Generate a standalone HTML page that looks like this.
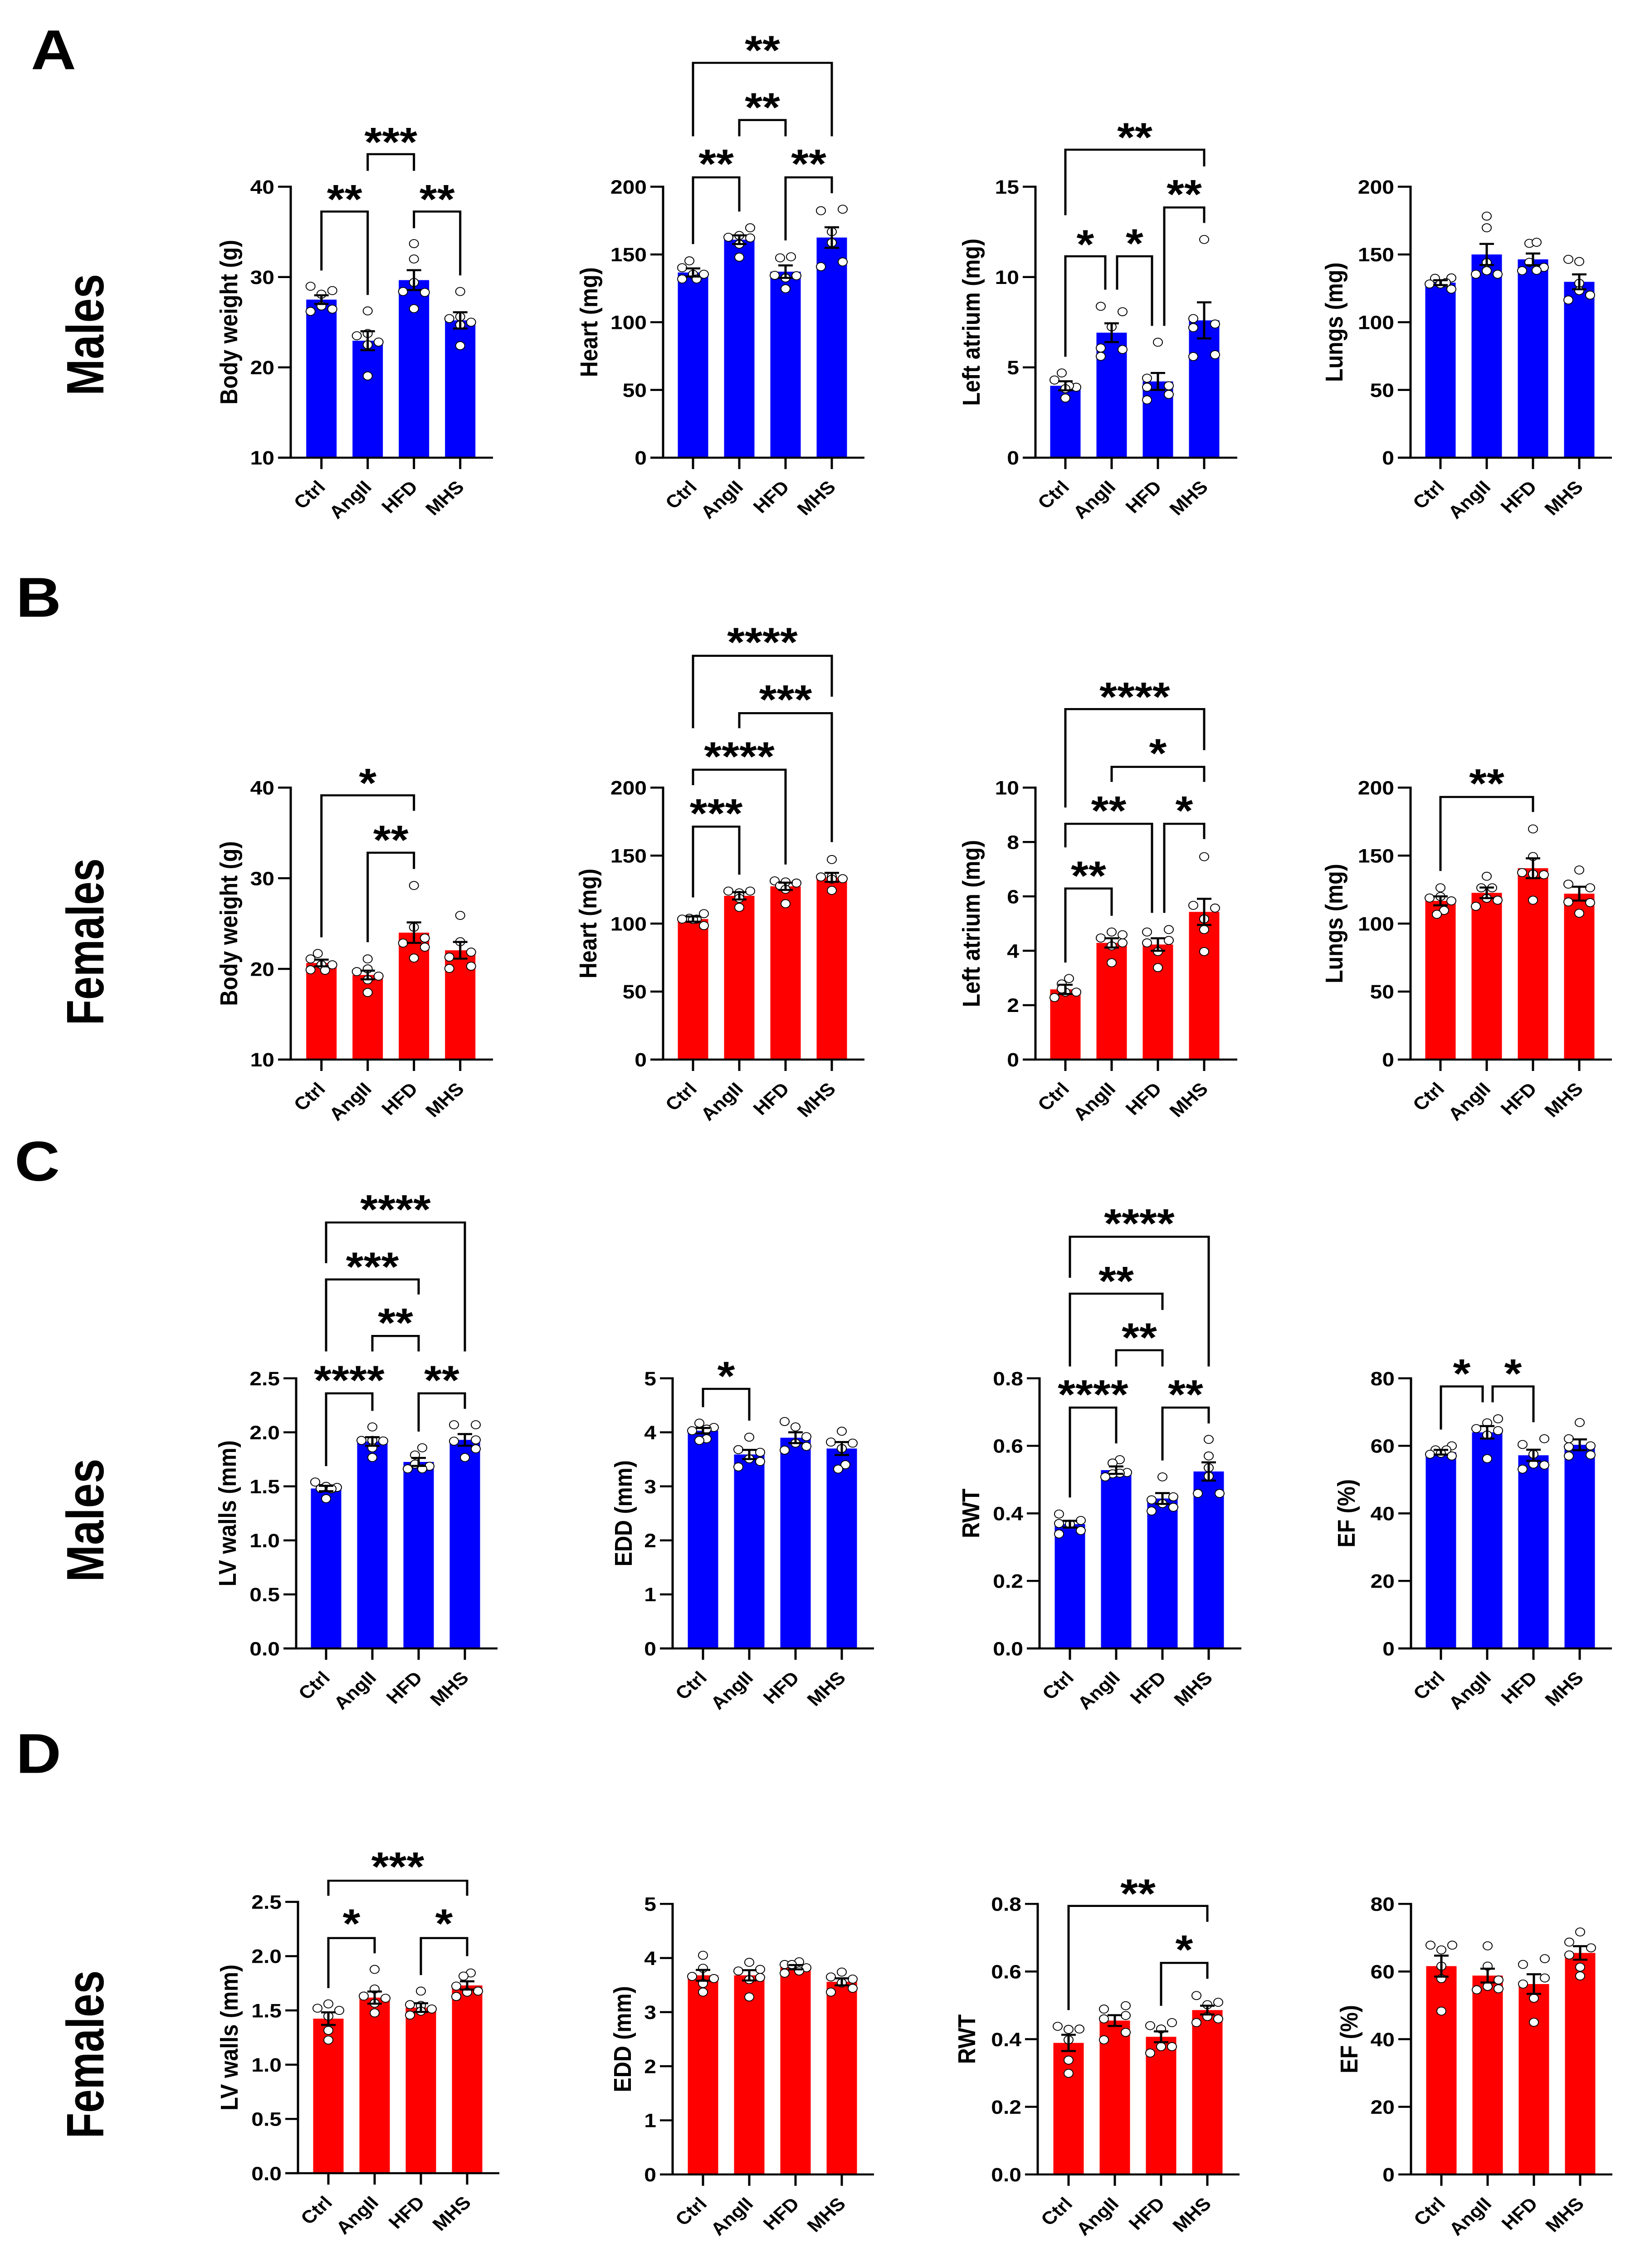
<!DOCTYPE html>
<html lang="en">
<head>
<meta charset="utf-8">
<title>Body, organ weight and echocardiography bar charts</title>
<style>
html,body{margin:0;padding:0;background:#fff;width:3638px;height:5575px;overflow:hidden;}
svg{display:block;position:absolute;left:0;top:0;}
text{font-family:"Liberation Sans",Arial,sans-serif;font-weight:bold;fill:#000;}
</style>
</head>
<body>
<svg id="figure" xmlns="http://www.w3.org/2000/svg" width="3638" height="5575" viewBox="0 0 3638 5575" preserveAspectRatio="none">
  <rect x="0" y="0" width="3638" height="5575" fill="#fff"/>
  <text x="118" y="170" font-size="138" text-anchor="middle">A</text>
  <text x="85" y="1516" font-size="138" text-anchor="middle">B</text>
  <text x="82" y="2902" font-size="138" text-anchor="middle">C</text>
  <text x="85" y="4358" font-size="138" text-anchor="middle">D</text>
  <text transform="translate(228,823) rotate(-90)" font-size="116" text-anchor="middle" textLength="299" lengthAdjust="spacingAndGlyphs">Males</text>
  <text transform="translate(228,2315) rotate(-90)" font-size="116" text-anchor="middle" textLength="410" lengthAdjust="spacingAndGlyphs">Females</text>
  <text transform="translate(228,3737) rotate(-90)" font-size="116" text-anchor="middle" textLength="303" lengthAdjust="spacingAndGlyphs">Males</text>
  <text transform="translate(228,5050) rotate(-90)" font-size="116" text-anchor="middle" textLength="413" lengthAdjust="spacingAndGlyphs">Females</text>
</svg>
<script>
/* ---------- shared categories ---------- */
const categories = ['Ctrl', 'AngII', 'HFD', 'MHS'];

/* ---------- tick labels ---------- */
const ticksWeight = ['10', '20', '30', '40'];
const ticksHeart = ['0', '50', '100', '150', '200'];
const ticksAtriumM = ['0', '5', '10', '15'];
const ticksAtriumF = ['0', '2', '4', '6', '8', '10'];
const ticksWalls = ['0.0', '0.5', '1.0', '1.5', '2.0', '2.5'];
const ticksEdd = ['0', '1', '2', '3', '4', '5'];
const ticksRwt = ['0.0', '0.2', '0.4', '0.6', '0.8'];
const ticksEf = ['0', '20', '40', '60', '80'];

/* ---------- values: means, SEM, individual animals ---------- */
const a1Means = [27.5, 22.95, 29.66, 25.2];
const a1Sems = [0.48, 1.05, 1.1, 0.9];
const a1Points = [[28.98, 28.5, 28.1, 26.8, 26.2, 26.45], [26.25, 23.5, 23.75, 22.8, 22.5, 19.05], [33.7, 32, 29.4, 28.4, 28.3, 26.5], [28.4, 25.6, 25.4, 25, 24.7, 22.4]];

const a2Means = [136.7, 160.9, 137.3, 162.5];
const a2Sems = [3, 3.2, 4.6, 7.6];
const a2Points = [[145.3, 140.2, 135.4, 135.4, 131.9, 131.9], [169.7, 162.7, 164, 162.2, 157.6, 148], [147.5, 148.3, 134.6, 134.3, 132.7, 124.7], [183.4, 182.3, 166.8, 158.7, 144.5, 141]];

const a3Means = [3.98, 6.92, 4.22, 7.6];
const a3Sems = [0.25, 0.52, 0.47, 1];
const a3Points = [[4.69, 4.3, 3.9, 3.98, 3.82, 3.3], [8.38, 8.08, 7.24, 6.07, 5.99, 5.61], [6.39, 4.4, 3.98, 3.9, 3.5, 3.2], [12.08, 7.7, 7.4, 7.2, 5.7, 5.6]];

const a4Means = [129.2, 150, 146.4, 129.8];
const a4Sems = [1.8, 7.8, 4.3, 5.5];
const a4Points = [[132.4, 132.7, 128.2, 128.2, 129.2, 124.4], [178.3, 169.7, 144, 138, 135.4, 135.4], [158.2, 159, 144.2, 140.5, 138, 138.3], [146.4, 144.8, 128.7, 123.3, 120, 116.4]];

const b1Means = [20.65, 19.33, 24, 22.05];
const b1Sems = [0.37, 0.48, 1.13, 0.92];
const b1Points = [[21.7, 21.1, 20.45, 20.45, 19.9, 19.85], [21.1, 20, 19.7, 19.2, 18.8, 17.4], [29.2, 24.6, 22.85, 23.4, 22.4, 21.2], [25.9, 23, 21.85, 21.3, 20.05, 20.3]];

const b2Means = [103.3, 120.4, 127.4, 134];
const b2Sems = [1.9, 2.7, 2.7, 3.3];
const b2Points = [[107.3, 103.9, 103.3, 103.3, 103, 98.5], [123.9, 123.9, 122.6, 120.7, 118.6, 111.9], [131.4, 130.6, 129.8, 127.9, 125.2, 114.6], [147.1, 134.3, 133, 134.6, 132.7, 124.4]];

const b3Means = [2.58, 4.29, 4.23, 5.43];
const b3Sems = [0.17, 0.17, 0.23, 0.48];
const b3Points = [[2.98, 2.78, 2.48, 2.48, 2.6, 2.28], [4.69, 4.59, 4.47, 4.29, 4.18, 3.56], [4.78, 4.69, 4.38, 4.29, 3.97, 3.38], [7.46, 5.67, 5.57, 5.17, 4.78, 3.97]];

const b4Means = [116.7, 122.6, 140.7, 122];
const b4Sems = [3.3, 3.9, 7.3, 5.1];
const b4Points = [[126.3, 119.9, 118.8, 116.7, 109.7, 106.8], [134.8, 126.3, 126.3, 117.2, 118.6, 112.7], [169.6, 149.3, 137.5, 135.9, 136.4, 117.2], [139.4, 129, 126.3, 115.9, 115.4, 107.6]];

const c1Means = [1.48, 1.915, 1.726, 1.93];
const c1Sems = [0.025, 0.04, 0.037, 0.054];
const c1Points = [[1.54, 1.5, 1.49, 1.48, 1.477, 1.386], [2.05, 1.925, 1.92, 1.925, 1.857, 1.767], [1.857, 1.79, 1.686, 1.662, 1.662, 1.706], [2.07, 2.07, 1.918, 1.93, 1.847, 1.767]];

const c2Means = [4.03, 3.59, 3.9, 3.7];
const c2Sems = [0.05, 0.085, 0.1, 0.12];
const c2Points = [[4.17, 4.09, 4.03, 4.06, 3.88, 3.85], [3.91, 3.68, 3.63, 3.51, 3.46, 3.36], [4.2, 4.1, 3.92, 3.8, 3.67, 3.74], [4.02, 3.82, 3.8, 3.7, 3.4, 3.32]];

const c3Means = [0.368, 0.528, 0.444, 0.524];
const c3Sems = [0.01, 0.011, 0.016, 0.027];
const c3Points = [[0.398, 0.37, 0.379, 0.368, 0.349, 0.339], [0.559, 0.549, 0.521, 0.519, 0.517, 0.508], [0.508, 0.449, 0.44, 0.429, 0.418, 0.407], [0.619, 0.57, 0.535, 0.51, 0.459, 0.459]];

const c4Means = [58.1, 64, 57.2, 60.3];
const c4Sems = [0.7, 1.85, 1.65, 1.6];
const c4Points = [[60, 58.8, 58.8, 57.5, 57.8, 57], [68, 66.8, 65.1, 64.5, 63.2, 56.2], [62.1, 60.4, 57.5, 54.6, 54.3, 53.1], [66.9, 62.1, 60, 59.7, 57.3, 57]];

const d1Means = [1.424, 1.618, 1.526, 1.73];
const d1Sems = [0.058, 0.056, 0.04, 0.038];
const d1Points = [[1.56, 1.52, 1.5, 1.447, 1.316, 1.227], [1.878, 1.632, 1.612, 1.697, 1.566, 1.477], [1.678, 1.553, 1.546, 1.513, 1.493, 1.457], [1.845, 1.816, 1.724, 1.678, 1.668, 1.628]];

const d2Means = [3.68, 3.68, 3.83, 3.56];
const d2Sems = [0.1, 0.095, 0.04, 0.065];
const d2Points = [[4.05, 3.81, 3.66, 3.62, 3.53, 3.37], [3.92, 3.79, 3.76, 3.64, 3.6, 3.28], [3.93, 3.88, 3.88, 3.82, 3.72, 3.76], [3.74, 3.65, 3.61, 3.54, 3.44, 3.37]];

const d3Means = [0.389, 0.455, 0.407, 0.486];
const d3Sems = [0.024, 0.016, 0.016, 0.013];
const d3Points = [[0.438, 0.43, 0.429, 0.398, 0.338, 0.299], [0.499, 0.489, 0.47, 0.46, 0.42, 0.398], [0.449, 0.44, 0.43, 0.378, 0.378, 0.359], [0.529, 0.509, 0.502, 0.46, 0.467, 0.449]];

const d4Means = [61.6, 58.8, 56.3, 65.5];
const d4Sems = [3.1, 2.05, 2.9, 2];
const d4Points = [[67.8, 67.8, 66.4, 61.6, 57.9, 48.3], [67.6, 61.6, 57.5, 55.6, 54.9, 54.6], [63.8, 62.1, 58.1, 56.3, 52.1, 45], [71.7, 68.7, 67, 64.9, 61.3, 58.7]];

/* ---------- swarm lanes of each animal (categorical lane number, one lane = 8 px) ---------- */
const a1Lanes = [[-3, 3, 0, 0, -3, 3], [0, -3, 0, 3, 0, 0], [0, 0, 0, -3, 3, 0], [0, 0, -3, 3, 0, 0]];
const a2Lanes = [[-1, -3, 3, 0, -3, 1], [3, -3, 0, 3, 0, 0], [-1.5, 1.5, -3, 3, 0, 0], [3, -3, 0, 0, 3, -3]];
const a3Lanes = [[-1, -3, 3, 1, 0, 0], [-3, 3, 0, -3, 3, -3], [0, -3, 3, -3, 3, -3], [0, -3, 3, -3, 3, -3]];
const a4Lanes = [[-1.5, 3, -3, 0, 1.5, 3], [0, 0, 0, 0, -3, 3], [-1, 1, -1, 3, -3, 1], [-3, 0, 0, 0, 3, -3]];
const b1Lanes = [[-1, -3, 3, 0, -3, 1], [0, 0, -3, 3, 0, 0], [0, 0, -3, 3, 3, 0], [0, 0, 3, -3, -3, 3]];
const b2Lanes = [[3, -1, -3, 1, 0, 3], [-3, 3, 0, 0, 0, 0], [-3, 0, 3, -1.5, 0, 0], [0, -3, 3, 0, 0, 0]];
const b3Lanes = [[1, -1, 3, 0, -1, -3], [0, 3, -3, 3, 0, 0], [3, -3, 3, -3, 0, 0], [0, -3, 3, 0, 0, 0]];
const b4Lanes = [[0, 0, -3, 3, 1, -1], [0, -1.5, 1.5, 3, 0, -3], [0, 0, -3, 3, 0, 0], [0, -3, 3, -3, 3, 0]];
const c1Lanes = [[-3, 0, 3, -1.5, 1.5, 0], [0, -3, 3, 0, 0, 0], [1, -1, 3, -3, 1, -1], [-3, 3, -3, 3, 3, 0]];
const c2Lanes = [[-1, 3, -3, 1, 1, -1], [0, -3, 3, 0, 3, -3], [-3, 0, 3, 0, -3, 3], [0, -3, 3, 0, 1, -1]];
const c3Lanes = [[-3, -3, 3, 0, 3, -3], [1, -1, 3, 1, -1, -3], [0, 3, -3, 0, 3, -3], [0, 0, 0, 0, -3, 3]];
const c4Lanes = [[3, -1.5, 1.5, -3, 0, 3], [3, 0, -3, 3, 0, 0], [3, -3, 0, 0, 3, -3], [0, -3, 3, -3, 3, -3]];
const d1Lanes = [[0, -3, 3, 0, 0, 0], [0, -3, 3, 0, 0, 0], [0, -3, 0, 3, 0, -3], [1, -1, -3, 3, 0, -3]];
const d2Lanes = [[0, 0, -3, 3, 0, 0], [0, 3, -3, 3, 0, 0], [1, -3, -1, 3, -3, 1], [0, -3, 3, 0, 3, -3]];
const d3Lanes = [[-3, 3, 0, 0, 0, 0], [3, -3, 3, -3, 3, -3], [3, -3, 0, 0, 3, -3], [-3, 3, 0, 3, 0, -3]];
const d4Lanes = [[-3, 3, 0, 0, 0, 0], [0, 0, 3, 0, 3, -3], [3, -3, 3, -3, 0, 0], [0, -3, 3, -3, 0, 0]];

/* ---------- chart registry: data references ---------- */
const chartData = {
  a1: {title: 'Body weight (g)', ticks: ticksWeight, means: a1Means, sems: a1Sems, points: a1Points, lanes: a1Lanes},
  a2: {title: 'Heart (mg)', ticks: ticksHeart, means: a2Means, sems: a2Sems, points: a2Points, lanes: a2Lanes},
  a3: {title: 'Left atrium (mg)', ticks: ticksAtriumM, means: a3Means, sems: a3Sems, points: a3Points, lanes: a3Lanes},
  a4: {title: 'Lungs (mg)', ticks: ticksHeart, means: a4Means, sems: a4Sems, points: a4Points, lanes: a4Lanes},
  b1: {title: 'Body weight (g)', ticks: ticksWeight, means: b1Means, sems: b1Sems, points: b1Points, lanes: b1Lanes},
  b2: {title: 'Heart (mg)', ticks: ticksHeart, means: b2Means, sems: b2Sems, points: b2Points, lanes: b2Lanes},
  b3: {title: 'Left atrium (mg)', ticks: ticksAtriumF, means: b3Means, sems: b3Sems, points: b3Points, lanes: b3Lanes},
  b4: {title: 'Lungs (mg)', ticks: ticksHeart, means: b4Means, sems: b4Sems, points: b4Points, lanes: b4Lanes},
  c1: {title: 'LV walls (mm)', ticks: ticksWalls, means: c1Means, sems: c1Sems, points: c1Points, lanes: c1Lanes},
  c2: {title: 'EDD (mm)', ticks: ticksEdd, means: c2Means, sems: c2Sems, points: c2Points, lanes: c2Lanes},
  c3: {title: 'RWT', ticks: ticksRwt, means: c3Means, sems: c3Sems, points: c3Points, lanes: c3Lanes},
  c4: {title: 'EF (%)', ticks: ticksEf, means: c4Means, sems: c4Sems, points: c4Points, lanes: c4Lanes},
  d1: {title: 'LV walls (mm)', ticks: ticksWalls, means: d1Means, sems: d1Sems, points: d1Points, lanes: d1Lanes},
  d2: {title: 'EDD (mm)', ticks: ticksEdd, means: d2Means, sems: d2Sems, points: d2Points, lanes: d2Lanes},
  d3: {title: 'RWT', ticks: ticksRwt, means: d3Means, sems: d3Sems, points: d3Points, lanes: d3Lanes},
  d4: {title: 'EF (%)', ticks: ticksEf, means: d4Means, sems: d4Sems, points: d4Points, lanes: d4Lanes}
};

/* ---------- page layout (not data): frame of each plot, in page pixels ---------- */
const BLUE = '#0000ff';
const RED = '#ff0000';
const chartFrames = {
  a1: {color: BLUE, axisX: 641, x0: 708.7, xEnd: 1087, top: 459, bottom: 1125, titleX: 504},
  a2: {color: BLUE, axisX: 1462, x0: 1528, xEnd: 1906, top: 459, bottom: 1125, titleX: 1298},
  a3: {color: BLUE, axisX: 2283, x0: 2349, xEnd: 2728, top: 459, bottom: 1125, titleX: 2141},
  a4: {color: BLUE, axisX: 3110, x0: 3176, xEnd: 3554, top: 459, bottom: 1125, titleX: 2941},
  b1: {color: RED, axisX: 641, x0: 708.7, xEnd: 1087, top: 1936, bottom: 2604.5, titleX: 504},
  b2: {color: RED, axisX: 1462, x0: 1528, xEnd: 1906, top: 1936, bottom: 2604.5, titleX: 1296},
  b3: {color: RED, axisX: 2283, x0: 2349, xEnd: 2728, top: 1936, bottom: 2604.5, titleX: 2141},
  b4: {color: RED, axisX: 3110, x0: 3176, xEnd: 3554, top: 1936, bottom: 2604.5, titleX: 2941},
  c1: {color: BLUE, axisX: 653, x0: 719, xEnd: 1097, top: 3388, bottom: 4052, titleX: 501},
  c2: {color: BLUE, axisX: 1483, x0: 1550, xEnd: 1927, top: 3388, bottom: 4052, titleX: 1374},
  c3: {color: BLUE, axisX: 2292, x0: 2359, xEnd: 2737, top: 3388, bottom: 4052, titleX: 2140},
  c4: {color: BLUE, axisX: 3111, x0: 3177, xEnd: 3554, top: 3388, bottom: 4052, titleX: 2968},
  d1: {color: RED, axisX: 657, x0: 724, xEnd: 1101, top: 4675, bottom: 5342, titleX: 505},
  d2: {color: RED, axisX: 1483, x0: 1550, xEnd: 1927, top: 4680, bottom: 5345, titleX: 1372},
  d3: {color: RED, axisX: 2288, x0: 2356, xEnd: 2733, top: 4680, bottom: 5345, titleX: 2131},
  d4: {color: RED, axisX: 3111, x0: 3178, xEnd: 3555, top: 4680, bottom: 5345, titleX: 2974}
};

/* significance annotations (layout, not data):
   from group, to group, bar y, left drop y, right drop y, stars, star-centre y, left nudge, right nudge */
const sigBrackets = {
  a1: [[0, 1, 520, 665, 725, '**', 478, 0, 0], [2, 3, 520, 561, 677, '**', 478, 0, 0], [1, 2, 379, 420, 420, '***', 337.5, 0, 0]],
  a2: [[0, 3, 154.5, 335, 335, '**', 112, 0, 0], [1, 2, 295, 335, 335, '**', 252, 0, 0], [0, 1, 436, 600, 520, '**', 391, 0, 0], [2, 3, 436, 591, 475, '**', 391, 0, 0]],
  a3: [[0, 3, 368, 529, 409, '**', 326, 0, 0], [2, 3, 510, 801, 548, '**', 466, 14, 0], [0, 1, 630, 877, 712, '*', 589, 0, -14], [1, 2, 630, 712, 801, '*', 587, 12, -13]],
  a4: [],
  b1: [[0, 2, 1955, 2304, 1993, '*', 1913, 0, 0], [1, 2, 2096, 2316, 2136, '**', 2053, 0, 0]],
  b2: [[0, 3, 1612, 1790, 1712.5, '****', 1567, 0, 0], [1, 3, 1753, 1790, 2070, '***', 1708, 0, 0], [0, 2, 1892, 1930, 2125, '****', 1848, 0, 0], [0, 1, 2032, 2206, 2150, '***', 1988, 0, 0]],
  b3: [[0, 3, 1743, 1985, 1844, '****', 1701, 0, 0], [1, 3, 1885, 1922, 1922, '*', 1840, 0, 0], [0, 2, 2025, 2083, 2244, '**', 1981, 0, -13], [2, 3, 2025, 2244, 2062.5, '*', 1981, 14, 0], [0, 1, 2184, 2366, 2251, '**', 2141, 0, 0]],
  b4: [[0, 2, 1959, 2141, 1996, '**', 1914, 0, 0]],
  c1: [[0, 3, 3005, 3105, 3322, '****', 2961, 0, 0], [0, 2, 3145, 3322, 3182, '***', 3102, 0, 0], [1, 2, 3284, 3322, 3322, '**', 3240, 0, 0], [0, 1, 3425, 3604, 3468, '****', 3381, 0, 0], [2, 3, 3425, 3519, 3463, '**', 3381, 0, 0]],
  c2: [[0, 1, 3414, 3459, 3492, '*', 3371, 0, 0]],
  c3: [[0, 3, 3040, 3141, 3359, '****', 2995.5, 0, 0], [0, 2, 3180, 3359, 3220, '**', 3137.5, 0, 0], [1, 2, 3319, 3359, 3359, '**', 3276, 0, 0], [0, 1, 3460, 3681, 3548, '****', 3416, 0, 0], [2, 3, 3460, 3590, 3499, '**', 3416, 0, 0]],
  c4: [[0, 1, 3408, 3514, 3447, '*', 3365, 0, -10], [1, 2, 3408, 3447, 3496, '*', 3365, 12, 0]],
  d1: [[0, 3, 4623, 4660, 4660, '***', 4577, 0, 0], [0, 1, 4764, 4887, 4801.5, '*', 4717, 0, 0], [2, 3, 4764, 4855, 4808.5, '*', 4717, 0, 0]],
  d2: [],
  d3: [[0, 3, 4685, 4941, 4724, '**', 4643, 0, 0], [2, 3, 4825, 4930.5, 4864, '*', 4781, 0, 0]],
  d4: []
};

const BAR_STEP = 102;
const BAR_WIDTH = 67;
const TICK_LEN = 28;
const CAP_HALF = 16;
const LANE_PX = 8;
const STAR_BASELINE = 46;
const FULL_HEIGHT = 5575;
const NS = 'http://www.w3.org/2000/svg';
const figure = document.getElementById('figure');

function svgEl(tag, attrs, parent) {
  const el = document.createElementNS(NS, tag);
  for (const key in attrs) el.setAttribute(key, attrs[key]);
  parent.appendChild(el);
  return el;
}

function drawChart(id) {
  const data = chartData[id];
  const frame = chartFrames[id];
  const tickValues = data.ticks.map(Number);
  const yMin = Math.min.apply(null, tickValues);
  const yMax = Math.max.apply(null, tickValues);
  const yScale = v => frame.bottom - (v - yMin) / (yMax - yMin) * (frame.bottom - frame.top);
  const xScale = i => frame.x0 + i * BAR_STEP;

  const g = svgEl('g', {}, figure);
  
  

  const title = svgEl('text', {
    transform: 'translate(' + (frame.titleX + 19) + ',' + ((frame.top + frame.bottom) / 2) + ') rotate(-90)',
    'font-size': 54, 'text-anchor': 'middle'
  }, g);
  title.textContent = data.title;
  
  

  data.means.forEach((m, i) => {
    const yTop = yScale(m);
    const bar = svgEl('rect', {
      x: xScale(i) - BAR_WIDTH / 2, y: yTop, width: BAR_WIDTH,
      height: frame.bottom - yTop, fill: frame.color
    }, g);
    
    
  });

  data.points.forEach((group, i) => {
    group.forEach((v, k) => {
      const dot = svgEl('circle', {
        cx: xScale(i) + data.lanes[i][k] * LANE_PX, cy: yScale(v), r: 10,
        fill: '#fff', stroke: '#000', 'stroke-width': 2
      }, g);
      
      
    });
  });

  data.means.forEach((m, i) => {
    const hi = yScale(m + data.sems[i]);
    const lo = yScale(m - data.sems[i]);
    const cx = xScale(i);
    const err = svgEl('path', {
      d: 'M' + (cx - CAP_HALF) + ' ' + hi + 'H' + (cx + CAP_HALF) +
         'M' + cx + ' ' + hi + 'V' + lo +
         'M' + (cx - CAP_HALF) + ' ' + lo + 'H' + (cx + CAP_HALF),
      fill: 'none', stroke: '#000', 'stroke-width': 5
    }, g);
    
    
  });

  const yAxis = svgEl('line', {
    x1: frame.axisX, x2: frame.axisX, y1: frame.top - 2.5, y2: frame.bottom + 2.5,
    stroke: '#000', 'stroke-width': 5
  }, g);
  
  

  const xAxis = svgEl('line', {
    x1: frame.axisX - TICK_LEN, x2: frame.xEnd, y1: frame.bottom, y2: frame.bottom,
    stroke: '#000', 'stroke-width': 5
  }, g);
  
  

  data.ticks.forEach(label => {
    const y = yScale(Number(label));
    const tick = svgEl('line', {
      x1: frame.axisX - TICK_LEN, x2: frame.axisX, y1: y, y2: y, stroke: '#000', 'stroke-width': 5
    }, g);
    
    
    const text = svgEl('text', {
      x: frame.axisX - TICK_LEN - 8, y: y + 17, 'font-size': 48, 'text-anchor': 'end'
    }, g);
    text.textContent = label;
    
    
  });

  categories.forEach((name, i) => {
    const cx = xScale(i);
    const tick = svgEl('line', {
      x1: cx, x2: cx, y1: frame.bottom, y2: frame.bottom + TICK_LEN, stroke: '#000', 'stroke-width': 5
    }, g);
    
    
    const text = svgEl('text', {
      transform: 'translate(' + (cx + 11) + ',' + (frame.bottom + 75) + ') rotate(-45)',
      'font-size': 44, 'text-anchor': 'end'
    }, g);
    text.textContent = name;
    
    
  });

  sigBrackets[id].forEach(b => {
    const x1 = xScale(b[0]) + b[7];
    const x2 = xScale(b[1]) + b[8];
    const path = svgEl('path', {
      d: 'M' + x1 + ' ' + b[3] + 'V' + b[2] + 'H' + x2 + 'V' + b[4],
      fill: 'none', stroke: '#000', 'stroke-width': 5
    }, g);
    
    
    const stars = svgEl('text', {
      x: (x1 + x2) / 2, y: b[6] + STAR_BASELINE, 'font-size': 100, 'text-anchor': 'middle'
    }, g);
    stars.textContent = b[5];
    
    
  });
}

Object.keys(chartData).forEach(drawChart);

/* keep the whole figure inside the frame if the capture window is shorter than the page */
if (window.innerWidth === 3638 && window.innerHeight >= 4000 && window.innerHeight < FULL_HEIGHT) {
  figure.setAttribute('height', window.innerHeight);
  document.documentElement.style.height = window.innerHeight + 'px';
  document.body.style.height = window.innerHeight + 'px';
}
</script>
</body>
</html>
